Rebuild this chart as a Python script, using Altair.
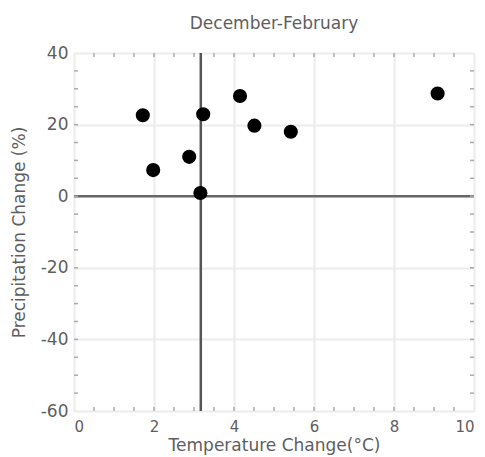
import altair as alt
import pandas as pd

temp_change = [1.72, 3.23, 4.15, 9.09, 4.51, 5.42, 2.88, 1.98, 3.16]
precip_change = [22.6, 22.9, 28.0, 28.7, 19.7, 18.0, 11.0, 7.3, 0.9]
ref_temp = [3.17]
ref_precip = [0]
x_minor = [i * 0.5 for i in range(1, 20)]
y_minor = [-60 + 5 * i for i in range(1, 20)]

W, H = 400, 358
TXT = "#5e5e5e"
FONT = "DejaVu Sans"
FS = 17

pts = pd.DataFrame({"t": temp_change, "p": precip_change})
xs = alt.Scale(domain=[0, 10], nice=False, zero=False)
ys = alt.Scale(domain=[-60, 40], nice=False, zero=False)

base_x = alt.X("t:Q", scale=xs, title="Temperature Change(°C)",
               axis=alt.Axis(values=[0, 2, 4, 6, 8, 10], ticks=False, domain=False,
                             grid=True, gridColor="#ececec", gridWidth=2,
                             labelFontSize=15, labelColor=TXT, labelFont=FONT,
                             labelPadding=8, labelExpr="'' + datum.value",
                             titleFontSize=FS, titleColor=TXT, titleFont=FONT,
                             titleFontWeight="normal", titlePadding=3))
base_y = alt.Y("p:Q", scale=ys, title="Precipitation Change (%)",
               axis=alt.Axis(values=[-60, -40, -20, 0, 20, 40], ticks=False, domain=False,
                             grid=True, gridColor="#ececec", gridWidth=2,
                             labelFontSize=FS, labelColor=TXT, labelFont=FONT,
                             labelPadding=6, labelExpr="'' + datum.value",
                             titleFontSize=FS, titleColor=TXT, titleFont=FONT,
                             titleFontWeight="normal", titlePadding=12))

points = alt.Chart(pts).mark_circle(size=200, color="black", opacity=1).encode(x=base_x, y=base_y)

vline = alt.Chart(pd.DataFrame({"t": ref_temp})).mark_rule(color="#555555", strokeWidth=2.5).encode(
    x=alt.X("t:Q", scale=xs))
hline = alt.Chart(pd.DataFrame({"p": ref_precip})).mark_rule(color="#666666", strokeWidth=2.5).encode(
    y=alt.Y("p:Q", scale=ys))

xt = pd.DataFrame({"t": x_minor})
yt = pd.DataFrame({"p": y_minor})
tick_col = "#aaaaaa"
xtick_top = alt.Chart(xt).mark_rule(color=tick_col, strokeWidth=1.5).encode(
    x=alt.X("t:Q", scale=xs), y=alt.value(0), y2=alt.value(4))
xtick_bot = alt.Chart(xt).mark_rule(color=tick_col, strokeWidth=1.5).encode(
    x=alt.X("t:Q", scale=xs), y=alt.value(H), y2=alt.value(H - 4))
ytick_l = alt.Chart(yt).mark_rule(color=tick_col, strokeWidth=1.5).encode(
    y=alt.Y("p:Q", scale=ys), x=alt.value(0), x2=alt.value(4))
ytick_r = alt.Chart(yt).mark_rule(color=tick_col, strokeWidth=1.5).encode(
    y=alt.Y("p:Q", scale=ys), x=alt.value(W), x2=alt.value(W - 4))

chart = alt.layer(vline, hline, xtick_top, xtick_bot, ytick_l, ytick_r, points).properties(
    width=W, height=H,
    title=alt.TitleParams("December-February", fontSize=FS, color=TXT, font=FONT,
                          fontWeight="normal", anchor="middle", offset=11),
    autosize=alt.AutoSizeParams(type="none"),
    padding={"left": 74, "top": 53, "right": 11, "bottom": 46},
).configure_view(stroke="#bbbbbb", strokeWidth=2).configure(background="white")

chart.save("out.html", embed_options={"renderer": "svg", "actions": False})
